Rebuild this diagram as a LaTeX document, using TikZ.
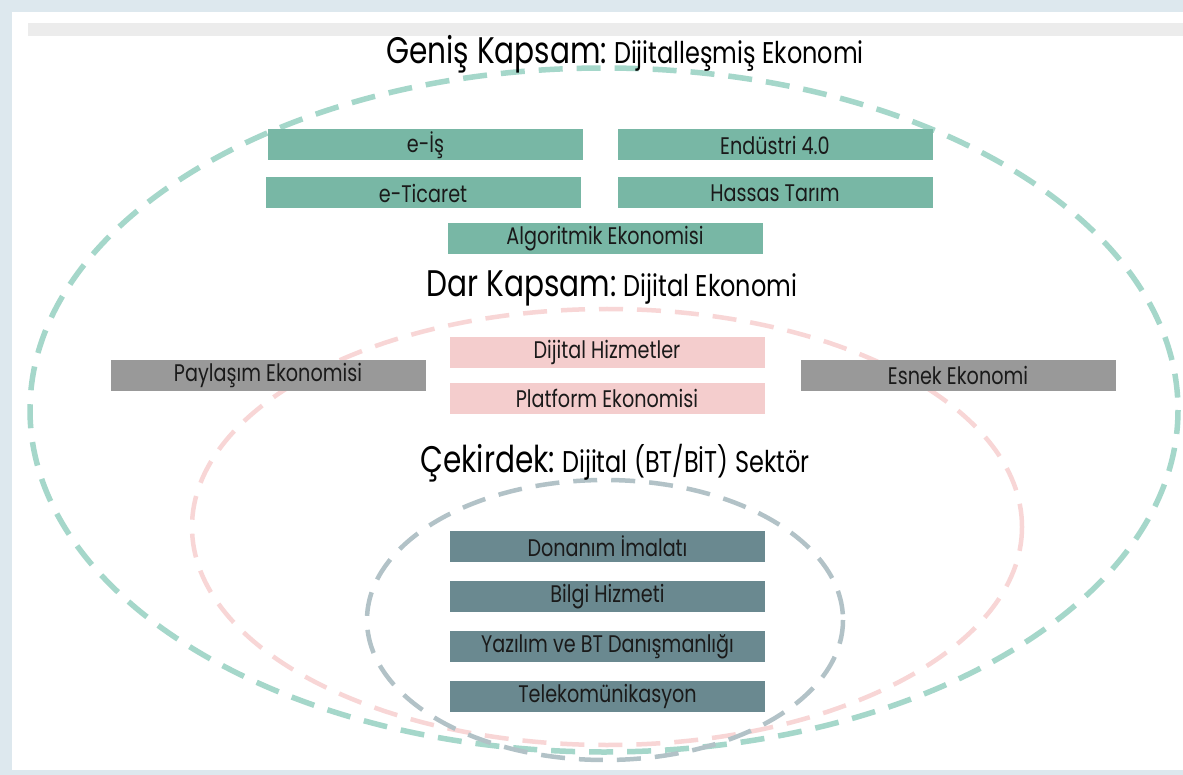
\documentclass[tikz,border=0pt]{standalone}
\usepackage{fontspec}
\setmainfont{Poppins}[FakeStretch=0.8]
\definecolor{frameblue}{HTML}{DDE8EE}
\definecolor{bargrey}{HTML}{ECECEC}
\definecolor{gfill}{HTML}{78B7A5}
\definecolor{pfill}{HTML}{F4CDCD}
\definecolor{sfill}{HTML}{999999}
\definecolor{dfill}{HTML}{6A8990}
\definecolor{gring}{HTML}{A5D7CA}
\definecolor{pring}{HTML}{F8D6D6}
\definecolor{dring}{HTML}{B2C2C7}
\definecolor{txt}{HTML}{1A1A1A}
\tikzset{
  bx/.style={minimum width=315pt, minimum height=31pt, inner sep=0pt, text=txt,
     font=\fontsize{24}{24}\selectfont},
  gbox/.style={bx, fill=gfill},
  pbox/.style={bx, fill=pfill},
  sbox/.style={bx, fill=sfill},
  dbox/.style={bx, fill=dfill},
  ring/.style={dash pattern=on 24pt off 14pt, line width=5pt},
  ttl/.style={inner sep=0pt, text=black, anchor=base}
}
\newcommand{\ttlbig}[1]{{\fontsize{37}{37}\selectfont #1}}
\newcommand{\ttlsml}[1]{{\fontsize{30}{30}\selectfont #1}}
\begin{document}
\begin{tikzpicture}[x=1pt,y=-1pt]
\useasboundingbox (0,0) rectangle (1183,775);
\fill[frameblue] (0,0) rectangle (1183,775);
\fill[white] (12,12) rectangle (1183,770);
\fill[bargrey] (28,23) rectangle (1183,36);
% rings
\draw[ring, gring, line width=5.5pt] (604,410) ellipse [x radius=574, y radius=342];
\draw[ring, pring, line width=4.5pt] (607,527) ellipse [x radius=415, y radius=218];
\draw[ring, dring, line width=4.5pt] (605,620) ellipse [x radius=238, y radius=140];
% titles
\node[ttl] (t1) at (625,64) {\ttlbig{Geniş Kapsam:}\hspace{7pt}\ttlsml{Dijitalleşmiş Ekonomi}};
\node[ttl] (t2) at (612,297) {\ttlbig{Dar Kapsam:}\hspace{7pt}\ttlsml{Dijital Ekonomi}};
\node[ttl] (t3) at (615,472) {\ttlbig{Çekirdek:}\hspace{7pt}\ttlsml{Dijital (BT/BİT) Sektör}};
% green boxes
\node[gbox] (eis) at (425.5,145) {e-İş};
\node[gbox] (endustri) at (775,145) {Endüstri 4.0};
\node[gbox] (eticaret) at (423,193) {e-Ticaret};
\node[gbox] (hassas) at (775,193) {Hassas Tarım};
\node[gbox] (algo) at (605,239) {Algoritmik Ekonomisi};
% pink boxes
\node[pbox] (dijhiz) at (607,352.5) {Dijital Hizmetler};
\node[pbox] (platform) at (607,398.5) {Platform Ekonomisi};
% grey boxes
\node[sbox] (paylasim) at (268,375.5) {Paylaşım Ekonomisi};
\node[sbox] (esnek) at (958,375.5) {Esnek Ekonomi};
% dark boxes
\node[dbox] (donanim) at (607.5,546.5) {Donanım İmalatı};
\node[dbox] (bilgi) at (607.5,596.5) {Bilgi Hizmeti};
\node[dbox] (yazilim) at (607.5,646.5) {Yazılım ve BT Danışmanlığı};
\node[dbox] (telekom) at (607.5,696.5) {Telekomünikasyon};
\end{tikzpicture}
\end{document}
